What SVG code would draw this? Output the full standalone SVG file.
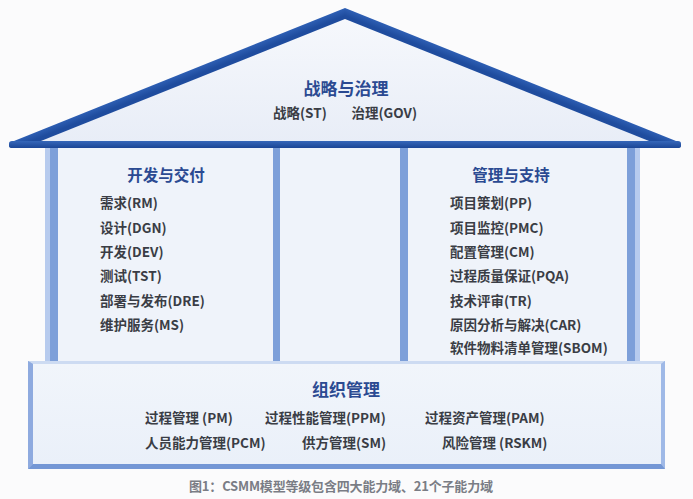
<svg xmlns="http://www.w3.org/2000/svg" width="693" height="499" viewBox="0 0 693 499">
<defs>
<style>
.h{font-family:"Noto Sans CJK SC","Noto Sans",sans-serif;font-weight:bold;fill:#2b4a92;}
.t{font-family:"Noto Sans CJK SC","Noto Sans",sans-serif;font-weight:bold;fill:#3a3d45;font-size:13.5px;}
.cap{font-family:"Noto Sans CJK SC","Noto Sans",sans-serif;font-weight:bold;fill:#7a7d85;font-size:13px;}
.col{fill:#7d9fd9;}
.colh{fill:#b7cbee;}
.panel{fill:#eff3fa;}
</style>
<linearGradient id="gTri" x1="0" y1="0" x2="0" y2="1">
<stop offset="0" stop-color="#f6f8fc"/>
<stop offset="1" stop-color="#e8edf7"/>
</linearGradient>
<linearGradient id="gRafL" gradientUnits="userSpaceOnUse" x1="180" y1="70" x2="184" y2="80">
<stop offset="0" stop-color="#5d8ad3"/>
<stop offset="0.35" stop-color="#2e5fb4"/>
<stop offset="1" stop-color="#1f4c9e"/>
</linearGradient>
<linearGradient id="gRafR" gradientUnits="userSpaceOnUse" x1="510" y1="70" x2="506" y2="80">
<stop offset="0" stop-color="#5d8ad3"/>
<stop offset="0.35" stop-color="#2e5fb4"/>
<stop offset="1" stop-color="#1f4c9e"/>
</linearGradient>
<linearGradient id="gEave" x1="0" y1="0" x2="0" y2="1">
<stop offset="0" stop-color="#3566b9"/>
<stop offset="1" stop-color="#1b4696"/>
</linearGradient>
<linearGradient id="gBase" x1="0" y1="0" x2="0" y2="1">
<stop offset="0" stop-color="#f1f5fb"/>
<stop offset="1" stop-color="#eaf0f9"/>
</linearGradient>
</defs>
<rect width="693" height="499" fill="#fbfbfc"/>

<g id="body">
<rect class="panel" x="58" y="148" width="569" height="213"/>
<rect x="45" y="148" width="13" height="213" class="col"/>
<rect x="45" y="148" width="5" height="213" class="colh"/>
<rect x="273" y="148" width="7" height="213" class="col"/>
<rect x="400" y="148" width="8" height="213" class="col"/>
<rect x="627" y="148" width="13" height="213" class="col"/>
<rect x="635" y="148" width="5" height="213" class="colh"/>
</g>

<g id="roof">
<polygon points="345,18 36,143 654,143" fill="url(#gTri)"/>
<polygon points="345,8 9,143 36,143 345,19" fill="url(#gRafL)"/>
<polygon points="345,8 681,143 654,143 345,19" fill="url(#gRafR)"/>
<path d="M12,141 H678 Q681,141 681,144 V146 Q681,148 678,148 H12 Q9,148 9,146 V144 Q9,141 12,141 Z" fill="url(#gEave)"/>
<text class="h" x="346" y="94.5" font-size="17" text-anchor="middle">战略与治理</text>
<text class="t" x="273" y="118">战略(ST)</text>
<text class="t" x="417" y="118" text-anchor="end">治理(GOV)</text>
</g>

<g id="dev">
<text class="h" x="166" y="181" font-size="15.5" text-anchor="middle">开发与交付</text>
<text class="t" x="100" y="208">需求(RM)</text>
<text class="t" x="100" y="232.5">设计(DGN)</text>
<text class="t" x="100" y="256.5">开发(DEV)</text>
<text class="t" x="100" y="281">测试(TST)</text>
<text class="t" x="100" y="305.5">部署与发布(DRE)</text>
<text class="t" x="100" y="329.5">维护服务(MS)</text>
</g>

<g id="mgmt">
<text class="h" x="511" y="181" font-size="15.5" text-anchor="middle">管理与支持</text>
<text class="t" x="450" y="208">项目策划(PP)</text>
<text class="t" x="450" y="232.5">项目监控(PMC)</text>
<text class="t" x="450" y="256.5">配置管理(CM)</text>
<text class="t" x="450" y="281">过程质量保证(PQA)</text>
<text class="t" x="450" y="305.5">技术评审(TR)</text>
<text class="t" x="450" y="329.5">原因分析与解决(CAR)</text>
<text class="t" x="450" y="353">软件物料清单管理(SBOM)</text>
</g>

<g id="org">
<rect x="28" y="361" width="637" height="108" fill="#a9c1ea"/>
<polygon points="28,361 665,361 661,364 33,364" fill="#cddbf2"/>
<polygon points="28,361 33,364 33,464 28,469" fill="#8eaadf"/>
<polygon points="665,361 661,364 661,464 665,469" fill="#9fb9e7"/>
<polygon points="28,469 33,464 661,464 665,469" fill="#7497d5"/>
<rect x="33" y="364" width="628" height="100" fill="url(#gBase)"/>
<text class="h" x="346" y="395.5" font-size="17" text-anchor="middle">组织管理</text>
<text class="t" x="145" y="423">过程管理 (PM)</text>
<text class="t" x="265" y="423">过程性能管理(PPM)</text>
<text class="t" x="425" y="423">过程资产管理(PAM)</text>
<text class="t" x="145" y="448">人员能力管理(PCM)</text>
<text class="t" x="302" y="448">供方管理(SM)</text>
<text class="t" x="442" y="448">风险管理 (RSKM)</text>
</g>

<g id="connectors"></g>

<text class="cap" x="189" y="491" textLength="304" lengthAdjust="spacing">图1：CSMM模型等级包含四大能力域、21个子能力域</text>
</svg>
